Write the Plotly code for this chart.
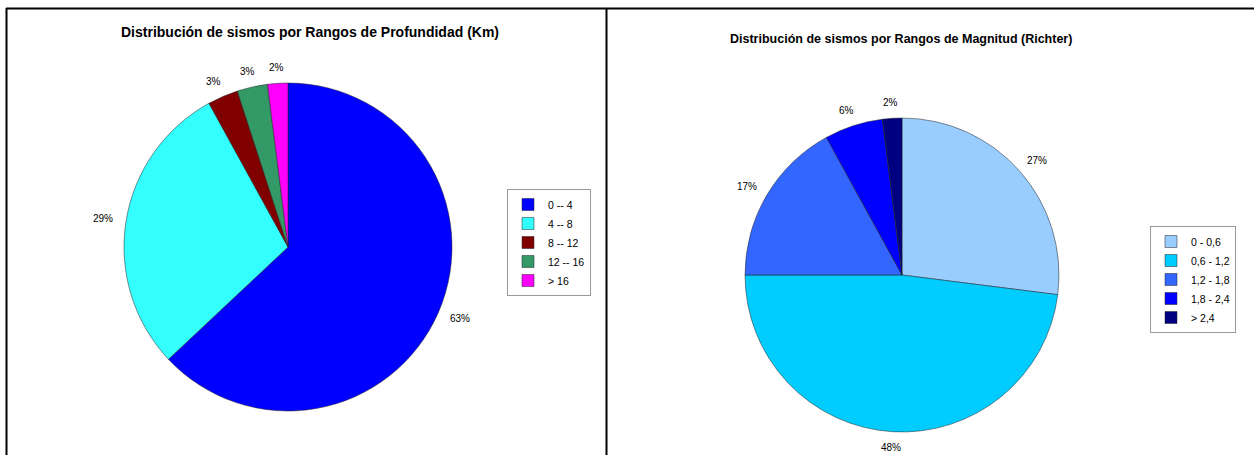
import math
import plotly.graph_objects as go

prof_labels = ["0 -- 4", "4 -- 8", "8 -- 12", "12 -- 16", "> 16"]
prof_values = [63, 29, 3, 3, 2]
prof_colors = ["#0000FF", "#33FFFF", "#800000", "#339966", "#FF00FF"]

mag_labels = ["0 - 0,6", "0,6 - 1,2", "1,2 - 1,8", "1,8 - 2,4", "> 2,4"]
mag_values = [27, 48, 17, 6, 2]
mag_colors = ["#99CCFF", "#00CCFF", "#3366FF", "#0000FF", "#000080"]

W, H = 1254, 455
FONT = "Liberation Sans, Arial, sans-serif"

# pie geometry (pixels): centre and radius
P1 = (288, 247, 164)
P2 = (902, 275, 157)


def dom(p):
    cx, cy, r = p
    return dict(x=[(cx - r) / W, (cx + r) / W], y=[(H - cy - r) / H, (H - cy + r) / H])


def pct_annotations(values, p):
    cx, cy, r = p
    total = sum(values)
    cum = 0
    out = []
    for v in values:
        mid = (cum + v / 2) / total * 2 * math.pi
        cum += v
        dx, dy = math.sin(mid), -math.cos(mid)
        px = cx + dx * (r + 12) + dx * 11
        py = cy + dy * (r + 12) + dy * 4
        out.append(dict(text=f"{v}%", x=px / W, y=1 - py / H, xref="paper", yref="paper",
                        xanchor="center", yanchor="middle", showarrow=False,
                        font=dict(family=FONT, size=10, color="#000000")))
    return out


fig = go.Figure()
fig.add_trace(go.Pie(
    labels=prof_labels, values=prof_values, sort=False, direction="clockwise",
    rotation=0, marker=dict(colors=prof_colors, line=dict(color="#222222", width=0.5)),
    textinfo="none", domain=dom(P1), legend="legend", hoverinfo="label+percent",
))
fig.add_trace(go.Pie(
    labels=mag_labels, values=mag_values, sort=False, direction="clockwise",
    rotation=0, marker=dict(colors=mag_colors, line=dict(color="#222222", width=0.5)),
    textinfo="none", domain=dom(P2), legend="legend2", hoverinfo="label+percent",
))

legend_common = dict(
    font=dict(family=FONT, size=10.5, color="#000000"),
    bgcolor="#FFFFFF", bordercolor="#999999", borderwidth=1,
    xanchor="left", yanchor="top", itemwidth=30, tracegroupgap=0,
    traceorder="normal",
)

annotations = [
    dict(text="<b>Distribución de sismos por Rangos de Profundidad (Km)</b>",
         x=310 / W, y=1 - 32 / H, xref="paper", yref="paper",
         xanchor="center", yanchor="middle", showarrow=False,
         font=dict(family=FONT, size=14, color="#000000")),
    dict(text="<b>Distribución de sismos por Rangos de Magnitud (Richter)</b>",
         x=901 / W, y=1 - 39 / H, xref="paper", yref="paper",
         xanchor="center", yanchor="middle", showarrow=False,
         font=dict(family=FONT, size=12.5, color="#000000")),
]
annotations += pct_annotations(prof_values, P1)
annotations += pct_annotations(mag_values, P2)

fig.update_layout(
    width=W, height=H, margin=dict(l=0, r=0, t=0, b=0),
    paper_bgcolor="#FFFFFF", plot_bgcolor="#FFFFFF",
    showlegend=True,
    legend=dict(x=507 / W, y=1 - 189 / H, **legend_common),
    legend2=dict(x=1150 / W, y=1 - 226 / H, **legend_common),
    annotations=annotations,
    shapes=[
        dict(type="line", xref="paper", yref="paper", x0=6 / W, x1=1, y0=1 - 8.5 / H, y1=1 - 8.5 / H,
             line=dict(color="#000000", width=2)),
        dict(type="line", xref="paper", yref="paper", x0=6.5 / W, x1=6.5 / W, y0=0, y1=1 - 8 / H,
             line=dict(color="#000000", width=2)),
        dict(type="line", xref="paper", yref="paper", x0=606.5 / W, x1=606.5 / W, y0=0, y1=1 - 8 / H,
             line=dict(color="#000000", width=2)),
    ],
)

fig.write_html("out.html", config={"displayModeBar": False},
               post_script="document.body.style.margin='0px';")
